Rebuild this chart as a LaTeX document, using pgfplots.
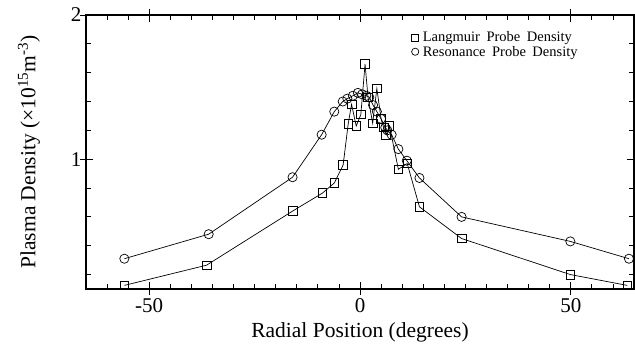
\documentclass[border=0pt]{standalone}
\usepackage{pgfplots}
\pgfplotsset{compat=1.18}
\usepackage{fontspec}
\setmainfont{Liberation Serif}
\newfontfamily\legfont{Liberation Serif}[WordSpace=1.8]
\begin{document}
\begin{tikzpicture}
\begin{axis}[
  scale only axis,
  width=548pt, height=274pt,
  xmin=-65, xmax=65, ymin=0.1, ymax=2,
  xtick={-50,0,50}, ytick={1,2},
  minor xtick={-60,-55,...,60},
  minor ytick={0.2,0.4,0.6,0.8,1.2,1.4,1.6,1.8},
  tick align=inside,
  major tick length=7pt, minor tick length=5pt,
  extra x ticks={-50,0,50}, extra y ticks={1,2},
  extra x tick labels={}, extra y tick labels={},
  extra tick style={tick align=center, major tick length=12pt},
  xtick pos=both, ytick pos=both,
  axis line style={line width=1.2pt},
  every tick/.style={black, line width=0.8pt},
  /pgf/number format/assume math mode=true,
  tick label style={font=\fontsize{21}{21}\selectfont},
  xticklabel style={yshift=-6pt},
  yticklabel style={xshift=-1pt},
  xlabel={Radial Position (degrees)},
  ylabel={Plasma Density (×10\textsuperscript{15}m\textsuperscript{-3})},
  label style={font=\fontsize{21.5}{21.5}\selectfont},
  xlabel style={yshift=3pt},
  ylabel style={yshift=18pt},
  legend style={at={(0.592,0.95)}, anchor=north west, draw=none, fill=none,
    font=\legfont\fontsize{14.5}{14}\selectfont, row sep=-1.5pt, column sep=2pt, inner sep=1pt},
  legend cell align=left,
  legend image code/.code={\draw[#1, mark size=3.6pt] plot coordinates {(0.22cm,0cm)};},
]
\coordinate (sw) at (rel axis cs:0,0);
\coordinate (ne) at (rel axis cs:1,1);
\addplot[black, line width=0.7pt, mark=square, mark size=4.3pt, mark options={solid, line width=0.7pt}] coordinates {
(-55.9,0.125) (-36.4,0.265) (-16,0.64) (-8.9,0.765) (-6.1,0.835) (-4.0,0.96)
(-2.8,1.245) (-2.0,1.38) (-0.9,1.23) (0.2,1.31) (1.2,1.66) (1.9,1.43)
(3.0,1.25) (4.0,1.49) (5.0,1.28) (5.6,1.22) (6.2,1.17) (7.0,1.23)
(9.1,0.93) (11.2,0.97) (14.1,0.67) (24.1,0.45) (49.9,0.2) (63.4,0.125)
};
\addlegendentry{Langmuir Probe Density}
\addplot[black, line width=0.7pt, mark=o, mark size=4.6pt, mark options={solid, line width=0.7pt}] coordinates {
(-55.9,0.31) (-35.9,0.48) (-16.0,0.875) (-9.1,1.17) (-6.1,1.33) (-4.1,1.40)
(-3.0,1.42) (-1.7,1.44) (-0.5,1.46) (0.5,1.45) (1.5,1.44) (2.2,1.43)
(3.1,1.375) (4.0,1.33) (5.0,1.28) (6.0,1.22) (6.5,1.20) (7.5,1.17)
(9.1,1.07) (11.1,0.99) (14.1,0.87) (24.1,0.60) (49.9,0.43) (63.8,0.31)
};
\addlegendentry{Resonance Probe Density}
\end{axis}
\pgfresetboundingbox
\path ([shift={(-86pt,-60pt)}]sw) rectangle ([shift={(1pt,15pt)}]ne);
\end{tikzpicture}
\end{document}
